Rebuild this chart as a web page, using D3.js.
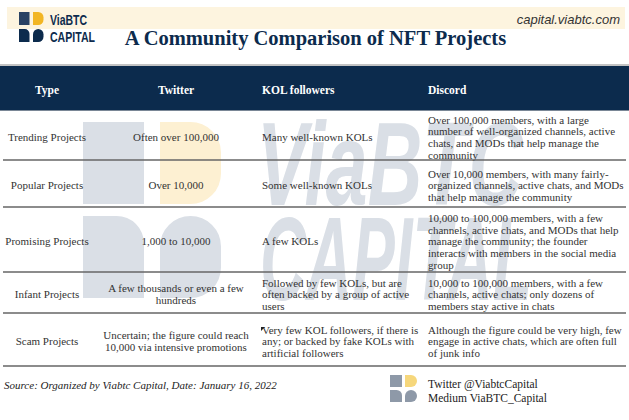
<!DOCTYPE html>
<html>
<head>
<meta charset="utf-8">
<script src="https://cdn.jsdelivr.net/npm/d3@7"></script>
<style>
html,body{margin:0;padding:0;background:#fff;}
svg{display:block;}
</style>
</head>
<body>
<svg id="chart" width="629" height="420"></svg>
<script>
// ---------- DATA ----------
const headers = ["Type", "Twitter", "KOL followers", "Discord"];
const types = ["Trending Projects", "Popular Projects", "Promising Projects", "Infant Projects", "Scam Projects"];
const twitterText = [
  ["Often over 100,000"],
  ["Over 10,000"],
  ["1,000 to 10,000"],
  ["A few thousands or even a few", "hundreds"],
  ["Uncertain; the figure could reach", "10,000 via intensive promotions"]
];
const kolText = [
  ["Many well-known KOLs"],
  ["Some well-known KOLs"],
  ["A few KOLs"],
  ["Followed by few KOLs, but are", "often backed by a group of active", "users"],
  ["Very few KOL followers, if there is", "any; or backed by fake KOLs with", "artificial followers"]
];
const discordText = [
  ["Over 100,000 members, with a large", "number of well-organized channels, active", "chats, and MODs that help manage the", "community"],
  ["Over 10,000 members, with many fairly-", "organized channels, active chats, and MODs", "that help manage the community"],
  ["10,000 to 100,000 members, with a few", "channels, active chats, and MODs that help", "manage the community; the founder", "interacts with members in the social media", "group"],
  ["10,000 to 100,000 members, with a few", "channels, active chats; only dozens of", "members stay active in chats"],
  ["Although the figure could be very high, few", "engage in active chats, which are often full", "of junk info"]
];
const titleText = "A Community Comparison of NFT Projects";
const siteText = "capital.viabtc.com";
const sourceText = "Source: Organized by Viabtc Capital, Date: January 16, 2022";
const socialText = ["Twitter @ViabtcCapital", "Medium ViaBTC_Capital"];
const watermarkText = ["ViaBTC", "CAPITAL"];

// ---------- LAYOUT ----------
const W = 629, H = 420;
const navy = "#0c2b4d";
const textCol = "#333333";
const serif = "'Liberation Serif','Times New Roman',serif";
const sans = "'Liberation Sans',Arial,sans-serif";
const rowEdges = [111, 160, 207, 272, 313, 366];
const lineH = 11.8;

const svg = d3.select("#chart");
svg.append("rect").attr("width", W).attr("height", H).attr("fill", "#fff");

// logo shape generator: 4 pieces
function logo(g, x, y, w, h, gx, gy, cols) {
  const r = Math.min(w, h) * 0.5;
  g.append("rect").attr("x", x).attr("y", y).attr("width", w).attr("height", h).attr("fill", cols[0]);
  const x2 = x + w + gx;
  g.append("path").attr("d",
    `M${x2},${y} H${x2 + w - r} A${r},${r} 0 0 1 ${x2 + w},${y + r} V${y + h - r} A${r},${r} 0 0 1 ${x2 + w - r},${y + h} H${x2} Z`)
    .attr("fill", cols[1]);
  const y2 = y + h + gy;
  const r2 = Math.min(w, h) * 0.45;
  g.append("path").attr("d",
    `M${x},${y2} H${x + w - r2} A${r2},${r2} 0 0 1 ${x + w},${y2 + r2} V${y2 + h} H${x} Z`)
    .attr("fill", cols[2]);
  g.append("path").attr("d",
    `M${x2},${y2 + r} A${r},${r} 0 0 1 ${x2 + r},${y2} H${x2 + w - r} A${r},${r} 0 0 1 ${x2 + w},${y2 + r} V${y2 + h - r} A${r},${r} 0 0 1 ${x2 + w - r},${y2 + h} H${x2} Z`)
    .attr("fill", cols[3]);
}

// fit a text to a given width by horizontal scaling
function fitText(sel, x, y, targetW) {
  const w = sel.node().getComputedTextLength();
  sel.attr("transform", `translate(${x},${y}) scale(${targetW / w},1)`);
}

// ---------- WATERMARK ----------
const wmGrey = "#dadfe6";
const wm = svg.append("g").attr("class", "watermark");
logo(wm, 83, 122, 61, 82, 16, 12, [wmGrey, "#fdf0d2", wmGrey, wmGrey]);
const wmPos = [{x: 257, y: 205, w: 266}, {x: 260, y: 300, w: 272}];
watermarkText.forEach((t, i) => {
  const s = wm.append("text").attr("x", 0).attr("y", 0)
    .attr("font-family", sans).attr("font-weight", "bold").attr("font-style", "italic")
    .attr("font-size", 118).attr("fill", wmGrey).text(t);
  fitText(s, wmPos[i].x, wmPos[i].y, wmPos[i].w);
});

// ---------- HEADER BAND ----------
svg.append("rect").attr("x", 7).attr("y", 7).attr("width", 618).attr("height", 22).attr("fill", "#fdf4df");
const lg = svg.append("g");
logo(lg, 19, 12, 10.5, 13, 3.5, 4, ["#2a4263", "#f2b624", navy, navy]);
const l1 = lg.append("text").attr("font-family", sans).attr("font-weight", "bold")
  .attr("font-size", 15.5).attr("fill", navy).text("ViaBTC");
fitText(l1, 50, 25, 37);
const l2 = lg.append("text").attr("font-family", sans).attr("font-weight", "bold")
  .attr("font-size", 14).attr("fill", navy).text("CAPITAL");
fitText(l2, 50, 42, 45);

svg.append("text").attr("x", 620).attr("y", 24).attr("text-anchor", "end")
  .attr("font-family", sans).attr("font-style", "italic").attr("font-size", 13).attr("fill", "#333")
  .text(siteText);

svg.append("text").attr("x", 315.5).attr("y", 45).attr("text-anchor", "middle")
  .attr("font-family", serif).attr("font-weight", "bold").attr("font-size", 20.5).attr("fill", navy)
  .text(titleText);

// ---------- TABLE ----------
const colX = d3.scaleOrdinal().domain(headers).range([47, 176, 262, 428]);
const colAnchor = d3.scaleOrdinal().domain(headers).range(["middle", "middle", "start", "start"]);

svg.append("line").attr("x1", 0).attr("x2", W).attr("y1", 65).attr("y2", 65).attr("stroke", "#888").attr("stroke-width", 1);
svg.append("rect").attr("x", 0).attr("y", 66).attr("width", W).attr("height", 44).attr("fill", navy);
svg.append("line").attr("x1", 0).attr("x2", W).attr("y1", 110.5).attr("y2", 110.5).attr("stroke", "#7a8796").attr("stroke-width", 1.2);

svg.selectAll("text.hdr").data(headers).join("text").attr("class", "hdr")
  .attr("x", d => colX(d)).attr("y", 93.5).attr("text-anchor", d => colAnchor(d))
  .attr("font-family", serif).attr("font-weight", "bold").attr("font-size", 11.5).attr("fill", "#fff")
  .text(d => d);

const rows = types.map((t, i) => ({
  top: rowEdges[i], bottom: rowEdges[i + 1],
  cells: [[t], twitterText[i], kolText[i], discordText[i]]
}));

const rowG = svg.selectAll("g.row").data(rows).join("g").attr("class", "row");
rowG.each(function (r) {
  const g = d3.select(this);
  const center = (r.top + r.bottom) / 2 + 2;
  r.cells.forEach((lines, ci) => {
    const h = headers[ci];
    const start = center - (lines.length - 1) * lineH / 2;
    g.selectAll(null).data(lines).join("text")
      .attr("x", colX(h)).attr("y", (d, k) => start + k * lineH + 3.8)
      .attr("text-anchor", colAnchor(h))
      .attr("font-family", serif).attr("font-size", 11).attr("fill", textCol)
      .text(d => d);
  });
});

// row separators
svg.selectAll("line.sep").data(rowEdges.slice(1)).join("line").attr("class", "sep")
  .attr("x1", 3).attr("x2", 626).attr("y1", d => d).attr("y2", d => d)
  .attr("stroke", "#666").attr("stroke-width", 1.5);

// small comment marker
svg.append("path").attr("d", "M261,327 L265,327 L261,331 Z").attr("fill", "#222");

// ---------- FOOTER ----------
svg.append("text").attr("x", 4).attr("y", 389)
  .attr("font-family", serif).attr("font-style", "italic").attr("font-size", 11).attr("fill", "#222")
  .text(sourceText);

const fl = svg.append("g");
logo(fl, 390, 375, 12, 12, 3, 3, ["#8e99a8", "#f6d77c", "#8e99a8", "#8e99a8"]);
fl.selectAll("text").data(socialText).join("text")
  .attr("x", 428).attr("y", (d, i) => 388 + i * 13.5)
  .attr("font-family", serif).attr("font-size", 11.5).attr("fill", "#222")
  .text(d => d);
</script>
</body>
</html>
